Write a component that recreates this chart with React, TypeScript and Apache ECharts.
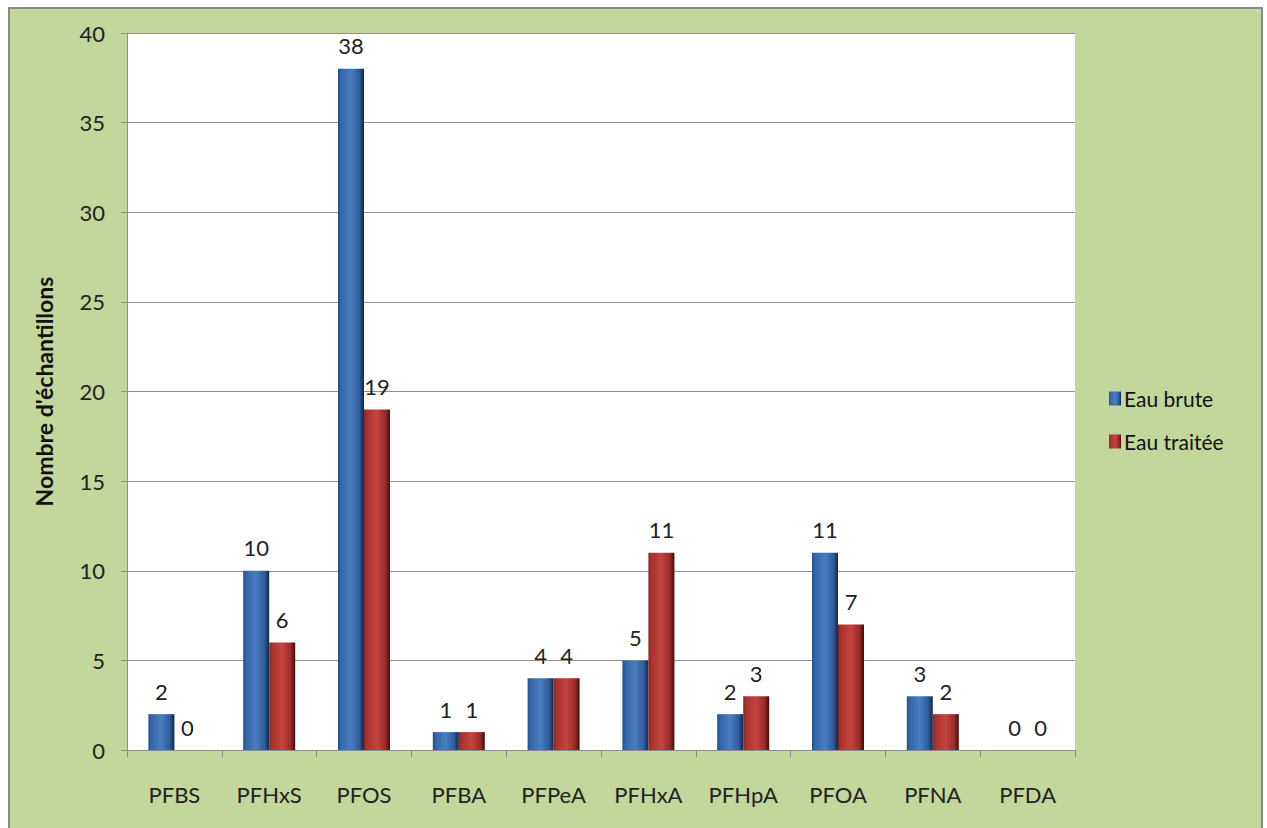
import React, { useEffect, useRef } from "react";
import * as echarts from "echarts";

const categories = ["PFBS", "PFHxS", "PFOS", "PFBA", "PFPeA", "PFHxA", "PFHpA", "PFOA", "PFNA", "PFDA"];
const eauBrute = [2, 10, 38, 1, 4, 5, 2, 11, 3, 0];
const eauTraitee = [0, 6, 19, 1, 4, 11, 3, 7, 2, 0];
const yTicks = { min: 0, max: 40, interval: 5 };
const FONT = "Lato, 'Open Sans', sans-serif";

const blueGrad = new echarts.graphic.LinearGradient(0, 0, 1, 0, [
  { offset: 0, color: "#244f8c" },
  { offset: 0.12, color: "#3566a8" },
  { offset: 0.5, color: "#4a7cc0" },
  { offset: 0.82, color: "#2f5c9c" },
  { offset: 1, color: "#10274a" },
]);
const redGrad = new echarts.graphic.LinearGradient(0, 0, 1, 0, [
  { offset: 0, color: "#8e2624" },
  { offset: 0.12, color: "#a83330" },
  { offset: 0.5, color: "#c4433f" },
  { offset: 0.82, color: "#9a2c2a" },
  { offset: 1, color: "#420c0c" },
]);

export default function App() {
  const ref = useRef<HTMLDivElement>(null);
  useEffect(() => {
    if (!ref.current) return;
    const chart = echarts.init(ref.current, undefined, { renderer: "svg" });
    const label = {
      show: true,
      position: "top" as const,
      distance: 12,
      fontFamily: FONT,
      fontSize: 22,
      color: "#222",
    };
    chart.setOption({
      animation: false,
      backgroundColor: "transparent",
      textStyle: { fontFamily: FONT },
      grid: {
        left: 117,
        right: 186,
        top: 24,
        bottom: 78,
        show: true,
        backgroundColor: "#ffffff",
        borderWidth: 0,
      },
      legend: {
        orient: "vertical",
        left: 1094,
        top: 374,
        itemGap: 22,
        itemWidth: 12,
        itemHeight: 14,
        icon: "rect",
        textStyle: { fontFamily: FONT, fontSize: 21, color: "#111", padding: [0, 0, 0, -2] },
        data: ["Eau brute", "Eau traitée"],
      },
      xAxis: {
        type: "category",
        data: categories,
        axisLine: { lineStyle: { color: "#8c8c8c", width: 1 } },
        axisTick: { show: true, length: 7, lineStyle: { color: "#8c8c8c" } },
        axisLabel: { margin: 33, fontFamily: FONT, fontSize: 22, color: "#222" },
      },
      yAxis: {
        type: "value",
        min: yTicks.min,
        max: yTicks.max,
        interval: yTicks.interval,
        name: "Nombre d'échantillons",
        nameLocation: "middle",
        nameGap: 72,
        nameTextStyle: { fontFamily: FONT, fontSize: 23, fontWeight: "bold", color: "#111" },
        axisLine: { show: true, lineStyle: { color: "#8c8c8c" } },
        axisTick: { show: true, length: 6, lineStyle: { color: "#8c8c8c" } },
        axisLabel: { margin: 22, fontFamily: FONT, fontSize: 22, color: "#222" },
        splitLine: { lineStyle: { color: "#9a8c8c", width: 1 } },
      },
      series: [
        {
          name: "Eau brute",
          type: "bar",
          data: eauBrute,
          barWidth: 26,
          barGap: "0%",
          itemStyle: { color: blueGrad },
          label,
        },
        {
          name: "Eau traitée",
          type: "bar",
          data: eauTraitee,
          barWidth: 26,
          barGap: "0%",
          itemStyle: { color: redGrad },
          label,
        },
      ],
    });
    return () => chart.dispose();
  }, []);
  return (
    <div style={{ position: "absolute", left: 0, top: 0, width: 1267, height: 828, background: "#fff", overflow: "hidden" }}>
      <div
        style={{
          position: "absolute",
          left: 8,
          top: 7,
          width: 1255,
          height: 821,
          boxSizing: "border-box",
          borderTop: "2px solid #8a8a8a",
          borderLeft: "2px solid #8a8a8a",
          borderRight: "2px solid #8a8a8a",
          background: "#c3d69b",
        }}
      >
        <div ref={ref} style={{ width: 1251, height: 819 }} />
      </div>
    </div>
  );
}
